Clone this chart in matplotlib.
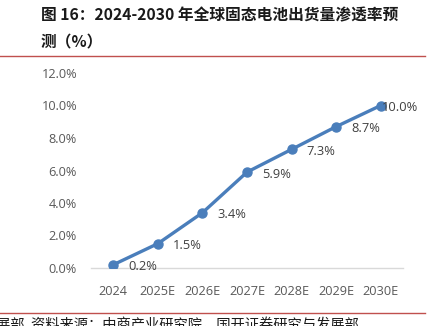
import matplotlib
matplotlib.use("Agg")
import matplotlib.pyplot as plt
from matplotlib.lines import Line2D

plt.rcParams['font.family'] = ['Open Sans', 'Noto Sans CJK SC', 'DejaVu Sans']

years = ["2024", "2025E", "2026E", "2027E", "2028E", "2029E", "2030E"]
share = [0.2, 1.5, 3.4, 5.9, 7.3, 8.7, 10.0]
labels = ["0.2%", "1.5%", "3.4%", "5.9%", "7.3%", "8.7%", "10.0%"]
yticks = [0, 2, 4, 6, 8, 10, 12]

title_1 = "图 16：2024-2030 年全球固态电池出货量渗透率预"
title_2 = "测（%）"
source = "展部  资料来源：中商产业研究院，国开证券研究与发展部"

W, H = 437, 326
fig = plt.figure(figsize=(W / 100, H / 100), dpi=100)
ax = fig.add_axes([91 / W, 58 / H, 312 / W, 195 / H])

x = list(range(len(years)))
ax.plot(x, share, color="#4a7ebb", lw=2.4, marker="o", ms=6.5,
        solid_capstyle="round", zorder=3)

for i, (v, t) in enumerate(zip(share, labels)):
    dx = 1 if i == len(share) - 1 else 15
    ax.annotate(t, (i, v), xytext=(dx, -2), textcoords="offset pixels",
                ha="left", va="center", fontsize=9.3, color="#404040")

ax.set_xlim(-0.5, len(years) - 0.5)
ax.set_ylim(0, 12)
ax.set_xticks(x)
ax.set_xticklabels(years)
ax.set_yticks(yticks)
ax.set_yticklabels([f"{v:.1f}%" for v in yticks])
ax.tick_params(length=0, labelsize=9.2, labelcolor="#595959")
ax.tick_params(axis="y", pad=10)
ax.tick_params(axis="x", pad=12)
for s in ["top", "right", "left"]:
    ax.spines[s].set_visible(False)
ax.spines["bottom"].set_color("#d9d9d9")
ax.spines["bottom"].set_linewidth(1)

cjk = ['Noto Sans CJK SC', 'DejaVu Sans']
fig.text(41 / W, 1 - 15 / H, title_1, fontsize=11.3, fontweight="bold",
         family=cjk, va="center", ha="left", color="#1a1a1a")
fig.text(41 / W, 1 - 42 / H, title_2, fontsize=11.3, fontweight="bold",
         family=cjk, va="center", ha="left", color="#1a1a1a")

fig.add_artist(Line2D([0, 425 / W], [1 - 56 / H] * 2, color="#c0504d", lw=1))
fig.add_artist(Line2D([0, 425 / W], [1 - 313 / H] * 2, color="#c0504d", lw=1))
fig.text(-4 / W, 1 - 325 / H, source, fontsize=10.3, family=cjk,
         va="center", ha="left", color="#1a1a1a")

fig.savefig("out.png", dpi=100)
